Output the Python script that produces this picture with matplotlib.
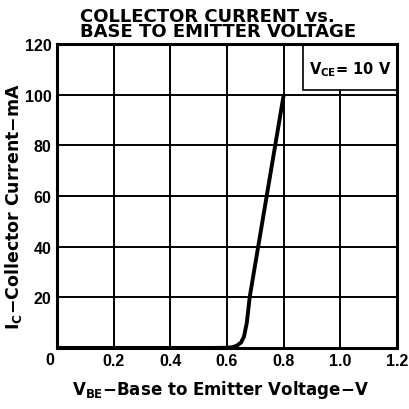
import matplotlib.pyplot as plt
from matplotlib.patches import Rectangle

# curve: V_BE (V) vs I_C (mA)
vbe = [0.0, 0.55, 0.60, 0.62, 0.635, 0.65, 0.66, 0.67, 0.68, 0.71, 0.74, 0.77, 0.80]
ic = [0.0, 0.0, 0.05, 0.3, 0.9, 2.2, 4.5, 10, 20, 40, 60, 80, 100]

xticks = [0.2, 0.4, 0.6, 0.8, 1.0, 1.2]
yticks = [20, 40, 60, 80, 100, 120]

plt.rcParams['font.family'] = ['DejaVu Sans']
plt.rcParams['mathtext.fontset'] = 'custom'
plt.rcParams['mathtext.rm'] = 'DejaVu Sans:bold'

fig = plt.figure(figsize=(4.09, 4.10), dpi=100)
ax = fig.add_axes([0.139, 0.149, 0.832, 0.741])

ax.plot(vbe, ic, color='black', lw=2.8, solid_capstyle='butt', zorder=3)

ax.set_xlim(0, 1.2)
ax.set_ylim(0, 120)
ax.set_xticks(xticks)
ax.set_xticklabels(['0.2', '0.4', '0.6', '0.8', '1.0', '1.2'])
ax.set_yticks(yticks)
ax.tick_params(length=0, labelsize=11.5, pad=4)
for lab in ax.get_xticklabels() + ax.get_yticklabels():
    lab.set_fontweight('bold')
    lab.set_family('Liberation Sans')
ax.text(-0.025, -1.5, '0', ha='center', va='top', fontsize=11.5, fontweight='bold',
        family='Liberation Sans')

ax.grid(True, color='black', lw=1.4)
for s in ax.spines.values():
    s.set_linewidth(2.2)

# V_CE box in the top right corner
ax.add_patch(Rectangle((0.868, 102), 0.332, 18, facecolor='white',
                       edgecolor='black', lw=1.2, zorder=2.5))
ax.text(1.034, 110.5, r'V$_{\mathregular{CE}}$= 10 V', ha='center', va='center',
        fontsize=10.5, fontweight='bold', zorder=4)

fig.text(0.538, 0.048, r'V$_{\mathregular{BE}}$$-$Base to Emitter Voltage$-$V',
         ha='center', va='center', fontsize=12, fontweight='bold')
fig.text(0.032, 0.497, r'I$_{\mathregular{C}}$$-$Collector Current$-$mA',
         ha='center', va='center', rotation=90, fontsize=12.5, fontweight='bold')

fig.text(0.196, 0.98, 'COLLECTOR CURRENT vs.\nBASE TO EMITTER VOLTAGE',
         ha='left', va='top', multialignment='left', fontsize=13,
         fontweight='bold', linespacing=0.8)

fig.savefig('out.png', dpi=100, facecolor='white')
